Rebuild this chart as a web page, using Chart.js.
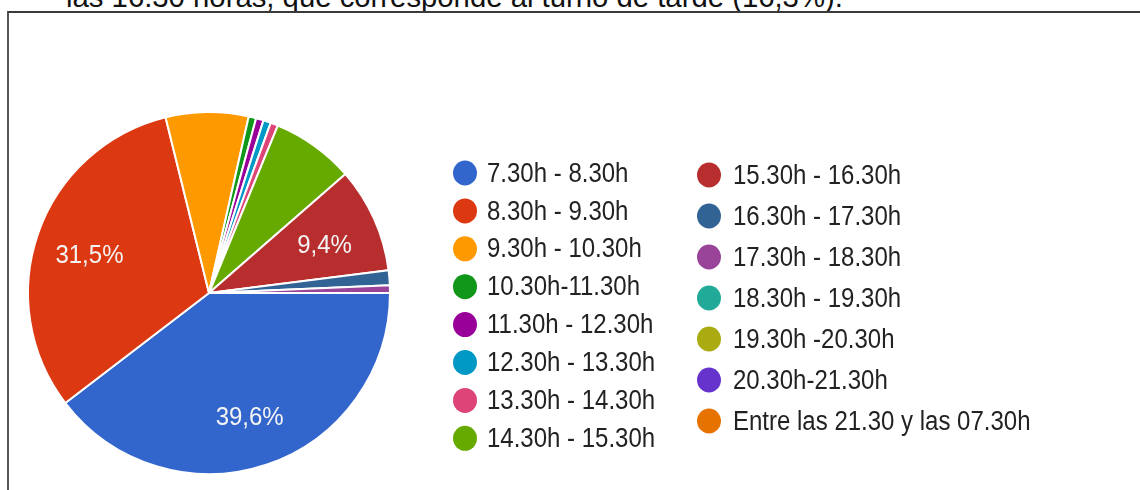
<!DOCTYPE html>
<html>
<head>
<meta charset="utf-8">
<script src="https://cdn.jsdelivr.net/npm/chart.js@4.4.0/dist/chart.umd.min.js"></script>
<style>
  html, body { margin:0; padding:0; background:#fff; width:1140px; height:490px; overflow:hidden; }
  #topText { position:absolute; left:66px; top:-18px; font-family:"Liberation Sans", Arial, sans-serif; font-size:29.3px; line-height:29px; color:#111; white-space:nowrap; }
  #frame { position:absolute; left:7px; top:11px; width:1200px; height:600px; border-top:2px solid #3a3a3a; border-left:2px solid #555; }
  #c { position:absolute; left:0; top:0; }
</style>
</head>
<body>
<div id="topText">las 16.30 horas, que corresponde al turno de tarde (16,3%).</div>
<div id="frame"></div>
<canvas id="c" width="1140" height="490"></canvas>
<script>
// ---- data ----
const categories = [
  "7.30h - 8.30h", "8.30h - 9.30h", "9.30h - 10.30h", "10.30h-11.30h",
  "11.30h - 12.30h", "12.30h - 13.30h", "13.30h - 14.30h", "14.30h - 15.30h",
  "15.30h - 16.30h", "16.30h - 17.30h", "17.30h - 18.30h", "18.30h - 19.30h",
  "19.30h -20.30h", "20.30h-21.30h", "Entre las 21.30 y las 07.30h"
];
const responses = [59, 47, 11, 1, 1, 1, 1, 11, 14, 2, 1, 0, 0, 0, 0];
const sliceColors = [
  "#3366cc", "#dc3912", "#ff9900", "#109618", "#990099", "#0099c6", "#dd4477",
  "#66aa00", "#b82e2e", "#316395", "#994499", "#22aa99", "#aaaa11", "#6633cc", "#e67300"
];

const FONT = '"Liberation Sans", Arial, sans-serif';

const sliceLabels = {
  id: 'sliceLabels',
  afterDatasetsDraw(chart) {
    const ctx = chart.ctx;
    const meta = chart.getDatasetMeta(0);
    const data = chart.data.datasets[0].data;
    const total = data.reduce((a, b) => a + b, 0);
    ctx.save();
    ctx.fillStyle = '#f4f4f4';
    ctx.textAlign = 'center';
    ctx.textBaseline = 'middle';
    meta.data.forEach((arc, i) => {
      const pct = data[i] / total * 100;
      if (pct < 9) return;
      const mid = (arc.startAngle + arc.endAngle) / 2;
      const r = arc.outerRadius * 0.7;
      const x = arc.x + Math.cos(mid) * r;
      const y = arc.y + Math.sin(mid) * r + 5;
      ctx.save();
      ctx.translate(x, y);
      ctx.scale(1, 1.08);
      ctx.font = '24px ' + FONT;
      ctx.fillText(pct.toFixed(1).replace('.', ',') + '%', 0, 0);
      ctx.restore();
    });
    ctx.restore();
  }
};

const sideLegend = {
  id: 'sideLegend',
  afterDraw(chart) {
    const ctx = chart.ctx;
    const labels = chart.data.labels;
    const colors = chart.data.datasets[0].backgroundColor;
    const cols = [
      { cx: 465, tx: 487, y0: 173, dy: 37.9 },
      { cx: 709, tx: 733, y0: 175, dy: 41 }
    ];
    ctx.save();
    labels.forEach((lab, i) => {
      const col = cols[i < 8 ? 0 : 1];
      const row = i < 8 ? i : i - 8;
      const y = col.y0 + row * col.dy;
      ctx.beginPath();
      ctx.ellipse(col.cx, y, 12, 12.5, 0, 0, Math.PI * 2);
      ctx.fillStyle = colors[i];
      ctx.fill();
      ctx.save();
      ctx.translate(col.tx, y + 1);
      ctx.scale(1, 1.15);
      ctx.font = '24px ' + FONT;
      ctx.fillStyle = '#222';
      ctx.textAlign = 'left';
      ctx.textBaseline = 'middle';
      ctx.fillText(lab, 0, 0);
      ctx.restore();
    });
    ctx.restore();
  }
};

new Chart(document.getElementById('c'), {
  type: 'pie',
  data: {
    labels: categories,
    datasets: [{
      data: responses,
      backgroundColor: sliceColors,
      borderColor: '#ffffff',
      borderWidth: 2,
      hoverOffset: 0
    }]
  },
  options: {
    responsive: false,
    animation: false,
    rotation: 90,
    layout: { padding: { left: 27, top: 111, right: 749, bottom: 15 } },
    plugins: {
      legend: { display: false },
      tooltip: { enabled: false }
    },
    events: []
  },
  plugins: [sliceLabels, sideLegend]
});
</script>
</body>
</html>
